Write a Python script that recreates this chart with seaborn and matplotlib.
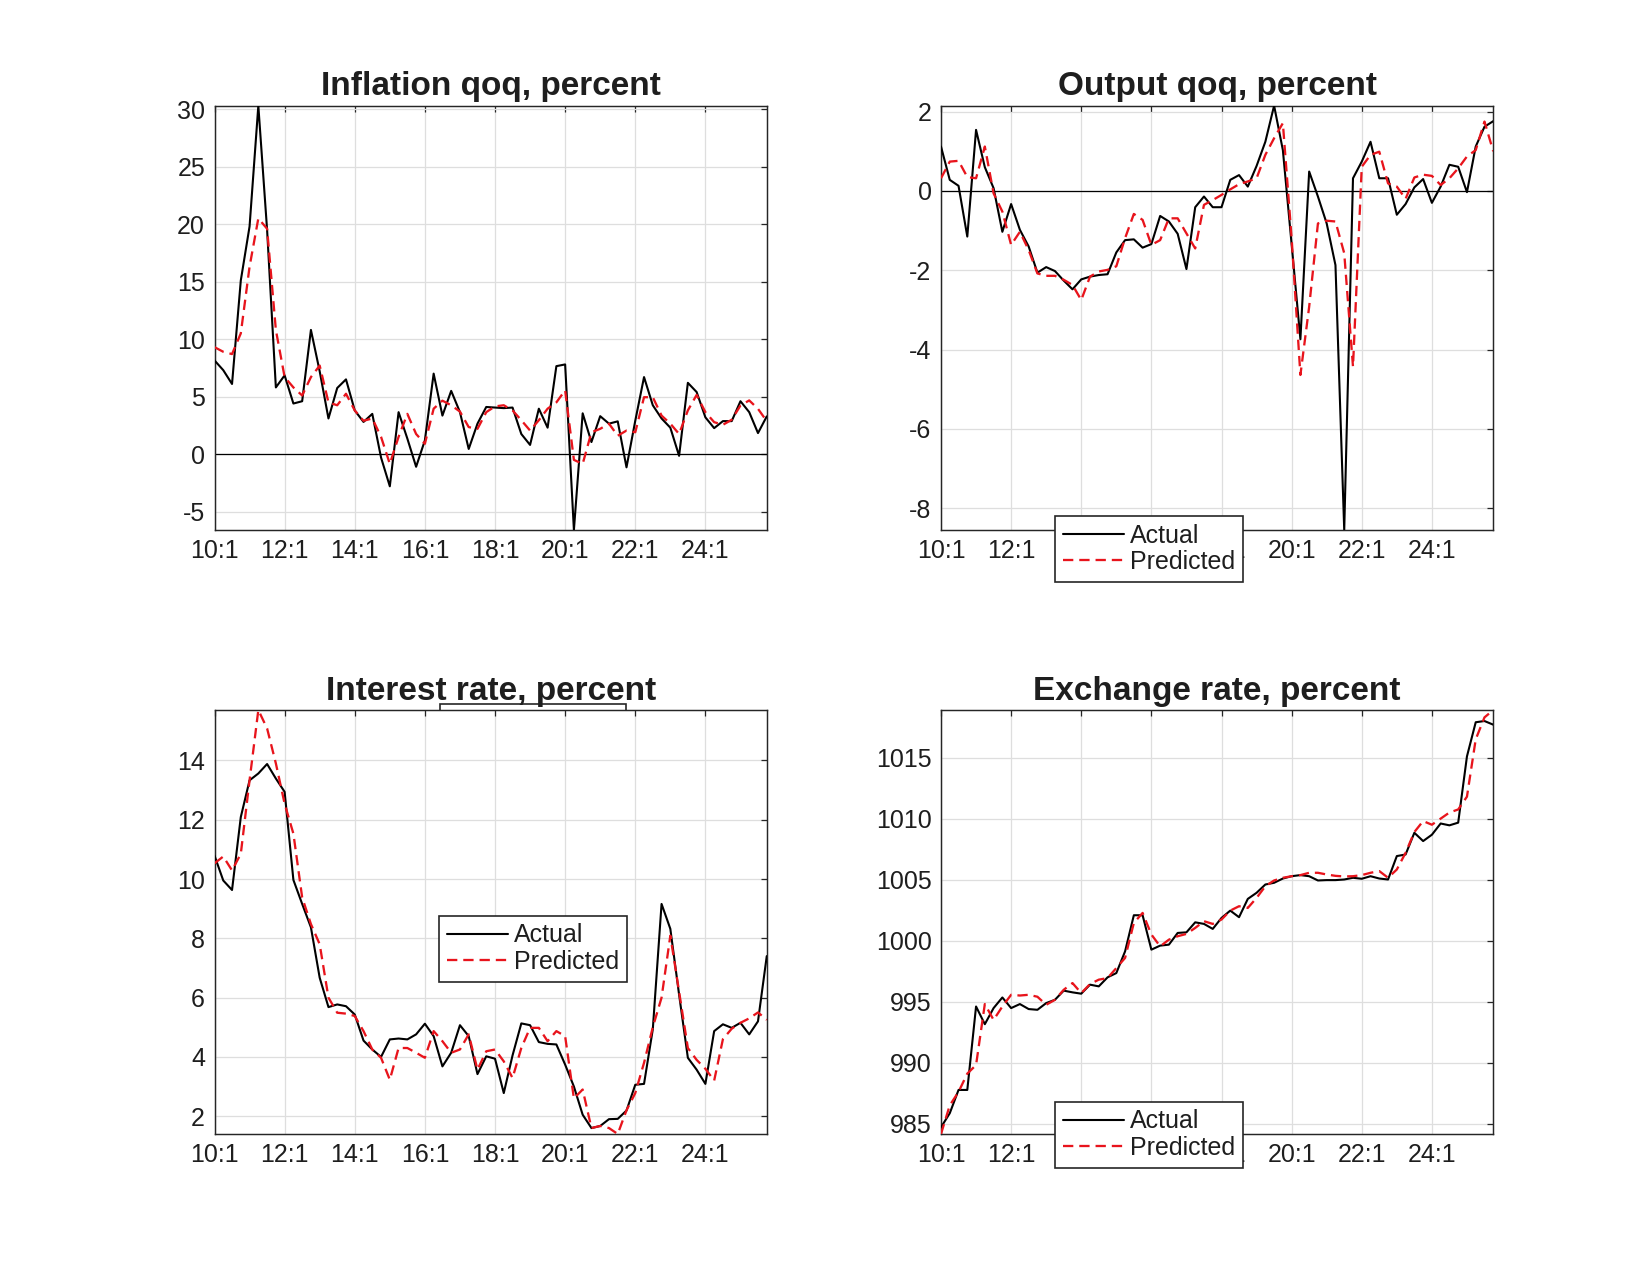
import numpy as np
import pandas as pd
import seaborn as sns
import matplotlib.pyplot as plt
from matplotlib.ticker import MultipleLocator
from matplotlib.patches import Rectangle

# Quarterly data, 10:1 .. 25:4
tick_labels = ['10:1', '12:1', '14:1', '16:1', '18:1', '20:1', '22:1', '24:1']

infl_actual = [8.15, 7.3, 6.1, 15.1, 19.8, 30.3, 19.5, 5.8, 6.85, 4.4, 4.6, 10.8, 7.2, 3.1, 5.75, 6.5,
               3.8, 2.8, 3.5, -0.3, -2.8, 3.65, 1.35, -1.1, 1.2, 7.0, 3.35, 5.5, 3.65, 0.45, 2.65, 4.1,
               4.05, 4.0, 4.05, 1.75, 0.8, 3.95, 2.3, 7.65, 7.8, -6.6, 3.55, 1.05, 3.3, 2.65, 2.85, -1.15,
               2.9, 6.7, 4.25, 3.1, 2.3, -0.15, 6.2, 5.4, 3.2, 2.26, 2.87, 2.87, 4.6, 3.65, 1.83, 3.28]
infl_pred = [9.3, 8.9, 8.7, 10.5, 16.3, 20.5, 19.6, 10.8, 6.7, 5.8, 5.1, 6.7, 7.7, 4.5, 4.25, 5.25,
             3.8, 2.9, 3.1, 1.5, -0.85, 1.5, 3.5, 1.75, 0.9, 3.95, 4.65, 4.25, 3.7, 2.35, 2.2, 3.65,
             4.15, 4.25, 3.8, 2.95, 2.05, 2.95, 3.95, 4.5, 5.55, -0.5, -0.85, 1.9, 2.2, 2.65, 1.6, 2.05,
             1.9, 4.95, 4.95, 3.35, 2.65, 1.75, 3.8, 5.15, 3.65, 2.78, 2.55, 2.99, 4.23, 4.67, 3.94, 2.87]

out_actual = [1.12, 0.28, 0.13, -1.15, 1.54, 0.6, 0.07, -1.03, -0.33, -0.98, -1.4, -2.06, -1.92, -2.02, -2.26, -2.48,
              -2.23, -2.16, -2.12, -2.1, -1.55, -1.24, -1.22, -1.43, -1.34, -0.63, -0.77, -1.08, -1.97, -0.41, -0.14, -0.41,
              -0.41, 0.28, 0.4, 0.11, 0.63, 1.24, 2.15, 1.03, -1.35, -3.74, 0.49, -0.14, -0.82, -1.87, -8.55, 0.32,
              0.74, 1.24, 0.32, 0.32, -0.6, -0.33, 0.09, 0.3, -0.3, 0.11, 0.66, 0.61, -0.03, 1.12, 1.62, 1.76]
out_pred = [0.32, 0.74, 0.76, 0.35, 0.32, 1.12, -0.06, -0.52, -1.36, -1.03, -1.49, -2.08, -2.14, -2.14, -2.24, -2.37,
            -2.75, -2.16, -2.03, -1.99, -1.9, -1.19, -0.58, -0.73, -1.36, -1.24, -0.69, -0.69, -1.07, -1.45, -0.35, -0.23,
            -0.1, 0.04, 0.17, 0.24, 0.32, 0.91, 1.33, 1.71, -1.2, -4.64, -2.92, -0.82, -0.75, -0.77, -1.57, -4.43,
            0.61, 0.91, 0.99, 0.19, 0.11, -0.2, 0.34, 0.41, 0.38, 0.15, 0.32, 0.57, 0.87, 1.03, 1.75, 1.0]

rate_actual = [10.79, 9.95, 9.63, 12.09, 13.33, 13.56, 13.88, 13.39, 12.94, 9.97, 9.16, 8.37, 6.67, 5.68, 5.77, 5.71,
               5.43, 4.55, 4.25, 4.0, 4.59, 4.62, 4.59, 4.76, 5.12, 4.7, 3.68, 4.14, 5.07, 4.7, 3.42, 4.02,
               3.94, 2.78, 4.05, 5.13, 5.07, 4.5, 4.44, 4.42, 3.74, 3.0, 2.05, 1.6, 1.67, 1.9, 1.91, 2.19,
               3.06, 3.09, 4.93, 9.16, 8.32, 6.1, 3.97, 3.57, 3.09, 4.87, 5.1, 4.98, 5.15, 4.76, 5.2, 7.4]
rate_pred = [10.53, 10.76, 10.29, 10.85, 13.33, 15.7, 15.08, 13.9, 12.54, 11.53, 9.38, 8.48, 7.8, 6.0, 5.49, 5.46,
             5.38, 4.87, 4.25, 3.97, 3.23, 4.3, 4.3, 4.14, 3.97, 4.87, 4.53, 4.14, 4.25, 4.76, 3.57, 4.19,
             4.25, 3.85, 3.29, 4.3, 4.98, 4.98, 4.53, 4.87, 4.7, 2.6, 2.9, 1.6, 1.67, 1.6, 1.4, 2.2,
             2.78, 3.8, 5.0, 6.0, 8.09, 6.2, 4.3, 3.9, 3.6, 3.2, 4.6, 4.95, 5.15, 5.3, 5.5, 5.25]

fx_actual = [984.7, 985.85, 987.76, 987.76, 994.6, 993.15, 994.47, 995.34, 994.47, 994.8, 994.39, 994.33, 994.88, 995.15, 995.9, 995.76,
             995.65, 996.39, 996.25, 996.99, 997.34, 999.12, 1002.08, 1002.08, 999.26, 999.59, 999.67, 1000.63, 1000.68, 1001.5, 1001.37, 1000.96,
             1001.86, 1002.46, 1001.92, 1003.42, 1003.92, 1004.6, 1004.74, 1005.09, 1005.28, 1005.37, 1005.28, 1004.93, 1004.96, 1004.96, 1005.01, 1005.15,
             1005.07, 1005.28, 1005.09, 1005.01, 1006.93, 1007.06, 1008.84, 1008.16, 1008.68, 1009.6, 1009.45, 1009.67, 1015.1, 1017.9, 1018.0, 1017.7]
fx_pred = [984.15, 986.5, 987.6, 989.1, 989.8, 994.8, 993.5, 994.6, 995.56, 995.5, 995.56, 995.4, 994.74, 995.15, 995.97, 996.52,
           995.7, 996.44, 996.8, 996.93, 997.75, 998.58, 1001.45, 1002.27, 1000.5, 999.53, 1000.08, 1000.36, 1000.55, 1001.04, 1001.59, 1001.37,
           1001.73, 1002.46, 1002.82, 1002.68, 1003.5, 1004.46, 1004.93, 1005.15, 1005.28, 1005.37, 1005.56, 1005.56, 1005.42, 1005.31, 1005.26, 1005.28,
           1005.37, 1005.56, 1005.7, 1005.15, 1005.83, 1007.2, 1008.9, 1009.8, 1009.5, 1010.0, 1010.5, 1010.75, 1011.8, 1016.5, 1018.3, 1018.9]

titles = ['Inflation qoq, percent', 'Output qoq, percent', 'Interest rate, percent', 'Exchange rate, percent']

sns.set_style("white")
plt.rcParams['font.family'] = ['Liberation Sans', 'DejaVu Sans']
plt.rcParams['axes.unicode_minus'] = False

dark = '#262626'
red = '#e8141c'

fig = plt.figure(figsize=(11, 8.5), dpi=150)

# MATLAB-like subplot positions
positions = [[0.13, 0.5843, 0.3347, 0.3328], [0.5703, 0.5843, 0.3347, 0.3328],
             [0.13, 0.1106, 0.3347, 0.3325], [0.5703, 0.1106, 0.3347, 0.3325]]

# leftover legend box peeking out behind the interest rate panel
fig.add_artist(Rectangle((440 / 1650, 1 - 769 / 1275), 186 / 1650, 65 / 1275,
                         transform=fig.transFigure, facecolor='white',
                         edgecolor=dark, linewidth=0.8, zorder=-1))

panels = [(infl_actual, infl_pred, 5, True, None),
          (out_actual, out_pred, 2, True, (1055, 516)),
          (rate_actual, rate_pred, 2, False, (439, 916)),
          (fx_actual, fx_pred, 5, False, (1055, 1102))]

for k, (act, pred, step, zero, leg) in enumerate(panels):
    ax = fig.add_axes(positions[k])
    df = pd.DataFrame({'q': np.arange(len(act)), 'Actual': act, 'Predicted': pred})

    if zero:
        ax.axhline(0, color='black', linewidth=0.6, zorder=1.8)
    sns.lineplot(data=df, x='q', y='Actual', ax=ax, color='black', linewidth=1.0,
                 label='Actual', estimator=None, sort=False, zorder=3)
    sns.lineplot(data=df, x='q', y='Predicted', ax=ax, color=red, linewidth=1.1,
                 linestyle=(0, (4.5, 2.6)), label='Predicted', estimator=None, sort=False, zorder=3)

    ax.set_xlim(df['q'].min(), df['q'].max())
    ax.set_ylim(min(df['Actual'].min(), df['Predicted'].min()),
                max(df['Actual'].max(), df['Predicted'].max()))
    ax.set_xticks(np.arange(0, len(act), 8))
    ax.set_xticklabels(tick_labels)
    ax.yaxis.set_major_locator(MultipleLocator(step))
    ax.set_xlabel('')
    ax.set_ylabel('')

    ax.grid(True, color='#dedede', linewidth=0.6)
    ax.set_axisbelow('line')
    for sp in ax.spines.values():
        sp.set_color(dark)
        sp.set_linewidth(0.7)
    ax.tick_params(direction='in', length=2.8, width=0.6, color=dark, top=True, right=True,
                   labelsize=12, labelcolor='#1e1e1e', pad=4.5)
    ax.set_title(titles[k], fontsize=16, fontweight='bold', color='#1e1e1e', pad=5)

    if leg is None:
        ax.get_legend().remove()
    else:
        lg = ax.legend(loc='upper left', bbox_to_anchor=(leg[0] / 1650, 1 - leg[1] / 1275),
                       bbox_transform=fig.transFigure, borderaxespad=0, fontsize=12,
                       frameon=True, fancybox=False, framealpha=1, edgecolor=dark,
                       handlelength=2.45, handletextpad=0.25, borderpad=0.3, labelspacing=0.1)
        lg.get_frame().set_linewidth(0.8)
        for t in lg.get_texts():
            t.set_color('#1e1e1e')

fig.savefig('out.png', dpi=150)
